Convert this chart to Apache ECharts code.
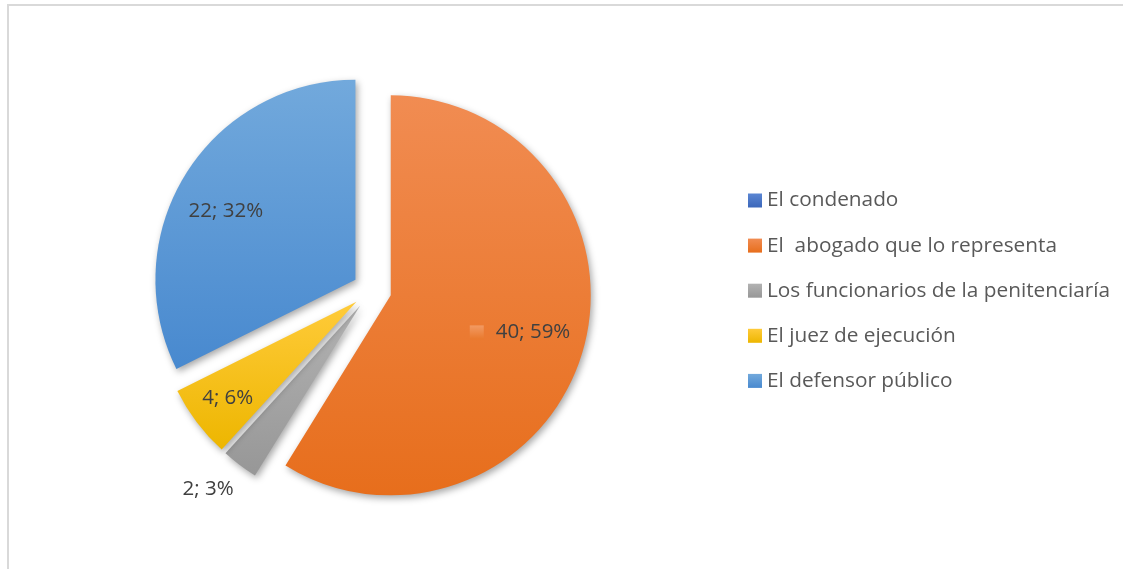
<!DOCTYPE html>
<html>
<head>
<meta charset="utf-8">
<script src="https://cdn.jsdelivr.net/npm/echarts@6/dist/echarts.min.js"></script>
<style>
  html, body { margin: 0; padding: 0; background: #ffffff; }
  #chart { width: 1123px; height: 569px; }
</style>
</head>
<body>
<div id="chart"></div>
<script>
// Who is responsible for the procedure (counts of answers)
const categories = [
  'El condenado',
  'El  abogado que lo representa',
  'Los funcionarios de la penitenciaría',
  'El juez de ejecución',
  'El defensor público'
];
const values = [0, 40, 2, 4, 22];

// Office-style fills: [top, bottom] of each slice's vertical gradient
const sliceColors = [
  ['#5B86D3', '#3B67BA'],
  ['#F18C52', '#E76E1C'],
  ['#B2B2B2', '#979797'],
  ['#FFCB3A', '#EDB600'],
  ['#72A9DC', '#4889CF']
];
// Which slices get their label drawn inside, and which outside the rim
const insideLabel = [false, true, false, true, true];
const outsideLabel = [false, false, true, false, false];
// Small best-fit nudges of each data label (px)
const labelNudge = [[0, 0], [-2, -4], [-10, -5], [-9, 6], [-2, 10]];

function grad(pair) {
  return new echarts.graphic.LinearGradient(0, 0, 0, 1, [
    { offset: 0, color: pair[0] },
    { offset: 1, color: pair[1] }
  ]);
}

const CENTER = [372, 290];
const R = 200;
const EXPLODE = 19.5;

const pieData = categories.map((name, i) => ({
  name: name,
  value: values[i],
  selected: true,
  itemStyle: { color: grad(sliceColors[i]) }
}));

const labelText = {
  color: '#404040',
  fontFamily: 'Open Sans',
  fontSize: 20.5
};

function labelSeries(radius, showList) {
  return {
    type: 'pie',
    center: CENTER,
    radius: radius,
    startAngle: 90,
    clockwise: true,
    percentPrecision: 0,
    selectedMode: 'multiple',
    selectedOffset: EXPLODE,
    avoidLabelOverlap: false,
    silent: true,
    z: 5,
    emphasis: { disabled: true },
    select: { itemStyle: { color: 'rgba(0,0,0,0)', borderWidth: 0 } },
    itemStyle: { color: 'rgba(0,0,0,0)', borderWidth: 0 },
    labelLine: { show: false },
    labelLayout: (p) => ({ dx: labelNudge[p.dataIndex][0], dy: labelNudge[p.dataIndex][1] }),
    data: categories.map((name, i) => ({
      name: name,
      value: values[i],
      selected: true,
      itemStyle: { color: 'rgba(0,0,0,0)' },
      label: {
        show: showList[i],
        position: 'inside',
        formatter: i === 1
          ? (p) => '{k|}{g|}{t|' + p.value + '; ' + p.percent + '%}{s|}'
          : (p) => p.value + '; ' + p.percent + '%',
        rich: {
          k: { width: 14, height: 14, backgroundColor: grad(['#F29A63', '#E9792C']) },
          g: { width: 12 },
          t: labelText,
          s: { width: 26 }
        },
        ...labelText
      }
    }))
  };
}

const chart = echarts.init(document.getElementById('chart'), null, { renderer: 'canvas' });

chart.setOption({
  animation: false,
  backgroundColor: '#ffffff',
  graphic: [{
    type: 'rect',
    silent: true,
    z: -10,
    shape: { x: 8, y: 5, width: 1300, height: 700 },
    style: { fill: 'none', stroke: '#D9D9D9', lineWidth: 2 }
  }],
  legend: {
    orient: 'vertical',
    left: 743,
    top: 185,
    data: categories,
    icon: 'rect',
    itemWidth: 14,
    itemHeight: 14,
    itemGap: 24.1,
    selectedMode: false,
    textStyle: {
      color: '#595959',
      fontFamily: 'Open Sans',
      fontSize: 20.8,
      lineHeight: 20
    }
  },
  series: [
    {
      type: 'pie',
      center: CENTER,
      radius: R,
      startAngle: 90,
      clockwise: true,
      selectedMode: 'multiple',
      selectedOffset: EXPLODE,
      avoidLabelOverlap: false,
      silent: true,
      emphasis: { disabled: true },
      select: { itemStyle: { borderWidth: 0 } },
      label: { show: false },
      labelLine: { show: false },
      itemStyle: {
        borderWidth: 0,
        shadowBlur: 7,
        shadowColor: 'rgba(0,0,0,0.35)',
        shadowOffsetX: 2,
        shadowOffsetY: 3
      },
      data: pieData
    },
    labelSeries([94, R], insideLabel),
    labelSeries([R, 266], outsideLabel)
  ]
});
</script>
</body>
</html>
